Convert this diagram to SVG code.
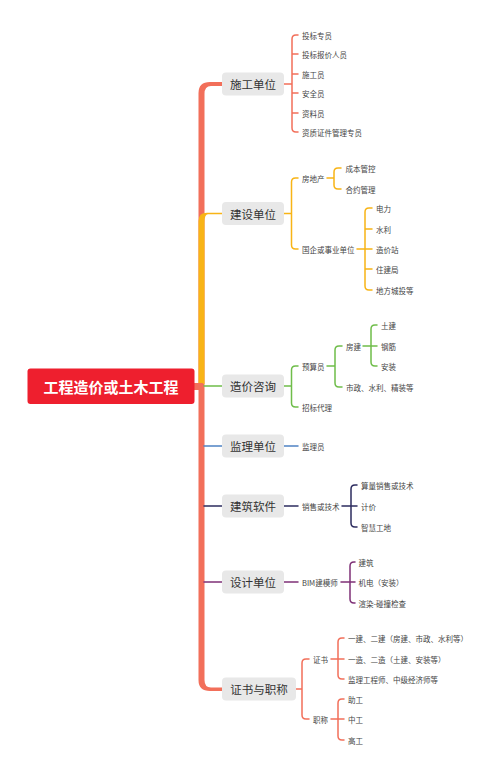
<svg xmlns="http://www.w3.org/2000/svg" width="500" height="775" viewBox="0 0 500 775">
<style>
.node rect{fill:#e8e8e8;}
.node text{font-family:"Noto Sans CJK SC","Noto Sans",sans-serif;font-size:11.5px;fill:#333;text-anchor:middle;dominant-baseline:central;}
.leaf{font-family:"Noto Sans CJK SC","Noto Sans",sans-serif;font-size:7.5px;fill:#444;dominant-baseline:central;}
.ln{fill:none;stroke-width:1.5;stroke-linecap:round;}
.s{stroke:#f26f5a;} .y{stroke:#f8b416;} .g{stroke:#6fbd4a;} .b{stroke:#4f83c4;} .n{stroke:#2d2c5f;} .p{stroke:#7f3177;}
</style>
<rect width="500" height="775" fill="#fff"/>
<g id="connectors">
  <path d="M198.5 386 V93 Q198.5 82 210 82 H222 V86 H211 Q204.5 86 204.5 94 V386 Z" fill="#f26f5a"/>
  <path d="M198.5 386 V680 Q198.5 691 210 691 H222 V687.5 H211 Q204.5 687.5 204.5 680 V386 Z" fill="#f26f5a"/>
  <path d="M198.5 384 V221 Q198.5 212.7 207 212.7 H222 V214.3 H208 Q204.5 214.5 204.5 222 V384 Z" fill="#f8b416"/>
  <rect x="193" y="383" width="10" height="7" fill="#f26f5a"/>
  <path class="ln g" d="M204 386 H222"/>
  <path class="ln b" d="M204 446 H222"/>
  <path class="ln n" d="M204 506 H222"/>
  <path class="ln p" d="M204 582 H222"/>
  <!-- 施工单位 -->
  <path class="ln s" d="M284 84 H292 M298 35 H296 Q292 35 292 39 V128 Q292 132 296 132 H298 M292 54 H298 M292 74 H298 M292 93 H298 M292 113 H298"/>
  <!-- 建设单位 -->
  <path class="ln y" d="M284 213.5 H291.5 M298 178 H295.5 Q291.5 178 291.5 182 V245 Q291.5 249 295.5 249 H298"/>
  <path class="ln y" d="M327 178 H334 M341 168 H338 Q334 168 334 172 V185 Q334 189 338 189 H341"/>
  <path class="ln y" d="M357 249 H365 M372 208 H369 Q365 208 365 212 V286 Q365 290 369 290 H372 M365 229 H372 M365 249 H372 M365 269 H372"/>
  <!-- 造价咨询 -->
  <path class="ln g" d="M284 386 H291.5 M298 366 H295.5 Q291.5 366 291.5 370 V403 Q291.5 407 295.5 407 H298"/>
  <path class="ln g" d="M327 366 H335 M342 346 H339 Q335 346 335 350 V383 Q335 387 339 387 H342"/>
  <path class="ln g" d="M363 346 H377 M377 325 H375 Q371 325 371 329 V362 Q371 366 375 366 H377"/>
  <!-- 监理单位 -->
  <path class="ln b" d="M284 446 H298"/>
  <!-- 建筑软件 -->
  <path class="ln n" d="M284 506 H298 M342 506 H357 M357 485 H355 Q351 485 351 489 V523 Q351 527 355 527 H357"/>
  <!-- 设计单位 -->
  <path class="ln p" d="M284 582 H298 M341 582 H355 M355 562 H354 Q350 562 350 566 V599 Q350 603 354 603 H355"/>
  <!-- 证书与职称 -->
  <path class="ln s" d="M296 689 H302 M309 659 H306 Q302 659 302 663 V715 Q302 719 306 719 H309"/>
  <path class="ln s" d="M331 659 H344 M344 638 H342 Q338 638 338 642 V675 Q338 679 342 679 H344"/>
  <path class="ln s" d="M331 719 H344 M344 699 H342 Q338 699 338 703 V736 Q338 740 342 740 H344"/>
</g>
<g id="root">
  <rect x="27.5" y="368.5" width="167" height="35.5" rx="3" fill="#ee1f2e"/>
  <text x="111" y="386.5" font-family="'Noto Sans CJK SC','Noto Sans',sans-serif" font-size="15" font-weight="bold" fill="#fff" text-anchor="middle" dominant-baseline="central">工程造价或土木工程</text>
</g>
<g id="n1" class="node"><rect x="222" y="72.5" width="62" height="23" rx="4"/><text x="253" y="84">施工单位</text></g>
<g id="n2" class="node"><rect x="222" y="202" width="62" height="23" rx="4"/><text x="253" y="213.5">建设单位</text></g>
<g id="n3" class="node"><rect x="222" y="374.5" width="62" height="23" rx="4"/><text x="253" y="386">造价咨询</text></g>
<g id="n4" class="node"><rect x="222" y="434.5" width="62" height="23" rx="4"/><text x="253" y="446">监理单位</text></g>
<g id="n5" class="node"><rect x="222" y="494.5" width="62" height="23" rx="4"/><text x="253" y="506">建筑软件</text></g>
<g id="n6" class="node"><rect x="222" y="570.5" width="62" height="23" rx="4"/><text x="253" y="582">设计单位</text></g>
<g id="n7" class="node"><rect x="222" y="677.5" width="74" height="23" rx="4"/><text x="259" y="689">证书与职称</text></g>
<g id="leaves">
  <text class="leaf" x="302" y="35">投标专员</text>
  <text class="leaf" x="302" y="54">投标报价人员</text>
  <text class="leaf" x="302" y="74">施工员</text>
  <text class="leaf" x="302" y="93">安全员</text>
  <text class="leaf" x="302" y="113">资料员</text>
  <text class="leaf" x="302" y="132">资质证件管理专员</text>
  <text class="leaf" x="302" y="178">房地产</text>
  <text class="leaf" x="345.5" y="168">成本管控</text>
  <text class="leaf" x="345.5" y="189">合约管理</text>
  <text class="leaf" x="302" y="249">国企或事业单位</text>
  <text class="leaf" x="376" y="208">电力</text>
  <text class="leaf" x="376" y="229">水利</text>
  <text class="leaf" x="376" y="249">造价站</text>
  <text class="leaf" x="376" y="269">住建局</text>
  <text class="leaf" x="376" y="290">地方城投等</text>
  <text class="leaf" x="302" y="366">预算员</text>
  <text class="leaf" x="346" y="346">房建</text>
  <text class="leaf" x="381" y="325">土建</text>
  <text class="leaf" x="381" y="346">钢筋</text>
  <text class="leaf" x="381" y="366">安装</text>
  <text class="leaf" x="346" y="387">市政、水利、精装等</text>
  <text class="leaf" x="302" y="407">招标代理</text>
  <text class="leaf" x="302" y="446">监理员</text>
  <text class="leaf" x="302" y="506">销售或技术</text>
  <text class="leaf" x="361" y="485">算量销售或技术</text>
  <text class="leaf" x="361" y="506">计价</text>
  <text class="leaf" x="361" y="527">智慧工地</text>
  <text class="leaf" x="302" y="582">BIM建模师</text>
  <text class="leaf" x="358.5" y="562">建筑</text>
  <text class="leaf" x="358.5" y="582">机电（安装）</text>
  <text class="leaf" x="358.5" y="603">渲染-碰撞检查</text>
  <text class="leaf" x="313" y="659">证书</text>
  <text class="leaf" x="348" y="638">一建、二建（房建、市政、水利等）</text>
  <text class="leaf" x="348" y="659">一造、二造（土建、安装等）</text>
  <text class="leaf" x="348" y="679">监理工程师、中级经济师等</text>
  <text class="leaf" x="313" y="719">职称</text>
  <text class="leaf" x="348" y="699">助工</text>
  <text class="leaf" x="348" y="719">中工</text>
  <text class="leaf" x="348" y="740">高工</text>
</g>
</svg>
